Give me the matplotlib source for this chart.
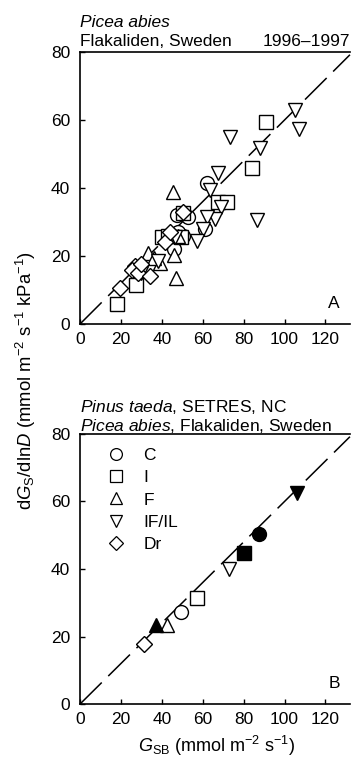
import matplotlib
matplotlib.use("Agg")
import matplotlib.pyplot as plt
from matplotlib.lines import Line2D

plt.rcParams['font.family'] = ['Liberation Sans', 'DejaVu Sans']
plt.rcParams['mathtext.fontset'] = 'custom'
plt.rcParams['mathtext.rm'] = 'Liberation Sans'
plt.rcParams['mathtext.it'] = 'Liberation Sans:italic'
plt.rcParams['font.size'] = 12.5

# panel A: Picea abies, Flakaliden 1996-1997
a_c_x = [62, 47.5, 53, 61, 50.5, 46, 48]
a_c_y = [41.5, 32, 31.5, 28, 26, 22, 27]
a_i_x = [18, 27.5, 40, 49.5, 50.5, 67.5, 72, 84, 91, 43]
a_i_y = [6, 11.5, 25.5, 25.5, 32.5, 36, 36, 46, 59.5, 26]
a_f_x = [45.5, 33, 46, 47, 39, 48, 36]
a_f_y = [38.8, 21, 20.3, 13.5, 18, 26, 19.5]
a_if_x = [67.5, 63.5, 69, 66, 62, 60, 57, 86.5, 73.5, 88, 105, 107, 46.5, 38, 30]
a_if_y = [44.5, 39.5, 34.5, 31, 31.5, 28, 24.5, 30.5, 55, 51.7, 63, 57.5, 25.5, 18.5, 15]
a_dr_x = [50.5, 41.5, 27, 25.5, 28.5, 34, 19.5, 44, 30]
a_dr_y = [33, 24, 17, 16, 15, 14, 10.5, 27, 17.5]

# panel B: open = Pinus taeda, filled = Picea abies
b_open_x = [49.5, 57.3, 42.6, 73, 31.4]
b_open_y = [27.3, 31.4, 23.4, 40, 17.8]
b_open_m = ['o', 's', '^', 'v', 'D']
b_fill_x = [87.7, 80, 37.3, 106]
b_fill_y = [50.4, 44.7, 23.4, 62.5]
b_fill_m = ['o', 's', '^', 'v']

treat = ['C', 'I', 'F', 'IF/IL', 'Dr']
marks = ['o', 's', '^', 'v', 'D']
slope = 0.6
xmax = 132

fig = plt.figure(figsize=(3.51, 7.65), dpi=100)
axA = fig.add_axes([0.228, 0.5765, 0.769, 0.3555])
axB = fig.add_axes([0.228, 0.0797, 0.769, 0.3530])

msz = {'o': 10, 's': 9.5, '^': 10, 'v': 10, 'D': 8}

def style(ax):
    ax.set_xlim(0, xmax)
    ax.set_ylim(0, 80)
    ax.set_xticks(range(0, 121, 20))
    ax.set_yticks(range(0, 81, 20))
    ax.spines['right'].set_visible(False)
    for s in ['left', 'bottom', 'top']:
        ax.spines[s].set_linewidth(1.2)
    ax.tick_params(axis='both', direction='in', length=3.5, width=1)
    ax.tick_params(axis='y', pad=7)
    ax.tick_params(axis='x', pad=6)
    ax.plot([0, xmax], [0, slope * xmax], color='black', lw=1.1,
            dashes=(20, 6), zorder=1, clip_on=False)

style(axA)
for xs, ys, m in zip([a_c_x, a_i_x, a_f_x, a_if_x, a_dr_x],
                     [a_c_y, a_i_y, a_f_y, a_if_y, a_dr_y], marks):
    axA.plot(xs, ys, m, ms=msz[m], mfc='white', mec='black', mew=1, ls='none', zorder=3)
axA.text(0.963, 0.077, 'A', transform=axA.transAxes, ha='right', va='center')

style(axB)
for x, y, m in zip(b_open_x, b_open_y, b_open_m):
    axB.plot(x, y, m, ms=msz[m], mfc='white', mec='black', mew=1, zorder=3)
for x, y, m in zip(b_fill_x, b_fill_y, b_fill_m):
    axB.plot(x, y, m, ms=msz[m], mfc='black', mec='black', mew=1, zorder=3)
axB.text(0.963, 0.077, 'B', transform=axB.transAxes, ha='right', va='center')

handles = [Line2D([], [], marker=m, ls='none', ms=msz[m] * 0.85, mfc='white', mec='black', mew=0.9)
           for m in marks]
axB.legend(handles, treat, loc='upper left', bbox_to_anchor=(0.1, 0.95),
           frameon=False, handlelength=1.0, handletextpad=1.1, borderpad=0,
           borderaxespad=0, labelspacing=0.42)

# titles
fig.text(0.228, 0.965, 'Picea abies', style='italic', ha='left', va='baseline')
fig.text(0.228, 0.940, 'Flakaliden, Sweden', ha='left', va='baseline')
fig.text(0.997, 0.940, '1996\u20131997', ha='right', va='baseline')
fig.text(0.228, 0.461, r'$\mathit{Pinus\ taeda}$, SETRES, NC', ha='left', va='baseline')
fig.text(0.228, 0.436, r'$\mathit{Picea\ abies}$, Flakaliden, Sweden', ha='left', va='baseline')

fig.text(0.075, 0.503, r'd$G_\mathrm{S}$/dln$D$ (mmol m$^{-2}$ s$^{-1}$ kPa$^{-1}$)',
         rotation=90, ha='center', va='center', fontsize=13.3)
fig.text(0.618, 0.017, r'$G_\mathrm{SB}$ (mmol m$^{-2}$ s$^{-1}$)', ha='center', va='baseline',
         fontsize=13)

fig.savefig('out.png', dpi=100)
